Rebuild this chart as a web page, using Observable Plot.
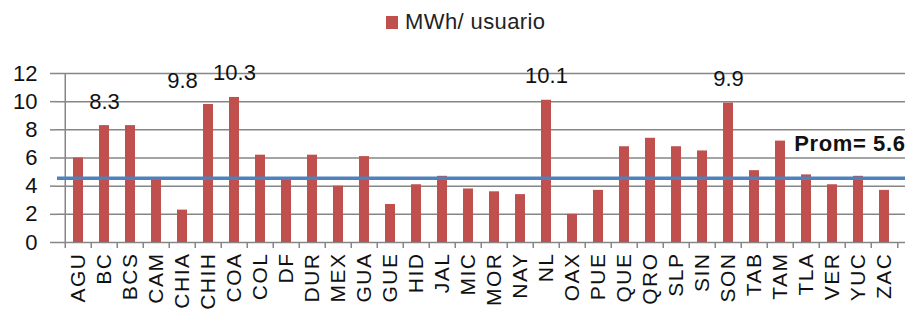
<!DOCTYPE html>
<html>
<head>
<meta charset="utf-8">
<script src="https://cdn.jsdelivr.net/npm/d3@7"></script>
<script src="https://cdn.jsdelivr.net/npm/@observablehq/plot@0.6"></script>
<style>
  html, body { margin: 0; padding: 0; background: #fff; }
  #wrap { position: relative; width: 909px; height: 312px; font-family: "Liberation Sans", Arial, sans-serif; }
  #legend { position: absolute; left: 386px; top: 9px; display: flex; align-items: center; font-size: 22px; color: #222; z-index: 2; letter-spacing: 0.4px; }
  #legend .sw { width: 12px; height: 13px; background: #C0504D; margin-right: 7px; }
  svg { position: absolute; left: 0; top: 0; }
  g[aria-label="x-axis tick label"] text { letter-spacing: 1.5px; }
  g.prom text { letter-spacing: 0.6px; }
</style>
</head>
<body>
<div id="wrap">
  <div id="legend"><span class="sw"></span><span id="legend-text"></span></div>
</div>
<script>
const categories = ["AGU","BC","BCS","CAM","CHIA","CHIH","COA","COL","DF","DUR","MEX","GUA","GUE","HID","JAL","MIC","MOR","NAY","NL","OAX","PUE","QUE","QRO","SLP","SIN","SON","TAB","TAM","TLA","VER","YUC","ZAC"];
const values = [6.0,8.3,8.3,4.5,2.3,9.8,10.3,6.2,4.5,6.2,4.0,6.1,2.7,4.1,4.7,3.8,3.6,3.4,10.1,2.0,3.7,6.8,7.4,6.8,6.5,9.9,5.1,7.2,4.8,4.1,4.7,3.7];
const seriesName = "MWh/ usuario";
const labeledCategories = ["BC","COA","NL","SON"];
const labeledShiftedCategories = ["CHIH"];
const averageLineValue = 4.57;
const averageLabel = "Prom= 5.6";
const yTicks = [0,2,4,6,8,10,12];

document.getElementById("legend-text").textContent = seriesName;

const data = categories.map((c, i) => ({cat: c, v: values[i]}));
const labeled = data.filter(d => labeledCategories.includes(d.cat));
const labeledShifted = data.filter(d => labeledShiftedCategories.includes(d.cat));

const W = 909, H = 312, ML = 57, MR = 4, MT = 73, MB = 70;
const bw = (W - ML - MR) / categories.length;

const chart = Plot.plot({
  width: W,
  height: H,
  marginLeft: ML,
  marginRight: MR,
  marginTop: MT,
  marginBottom: MB,
  style: {fontFamily: "'Liberation Sans', Arial, sans-serif", background: "transparent", overflow: "visible"},
  x: {type: "band", domain: categories, padding: 0.6},
  y: {domain: [0, 12]},
  marks: [
    Plot.gridY(yTicks, {stroke: "#868686", strokeOpacity: 1, strokeWidth: 1.5}),
    Plot.axisY(yTicks, {tickSize: 7, tickPadding: 13, fontSize: 22, stroke: "#868686", strokeWidth: 1.5, fill: "#111", label: null}),
    Plot.ruleX(categories, {x: d => d, dx: -bw / 2, y1: 0, y2: -0.43, stroke: "#868686", strokeWidth: 1.5, clip: false}),
    Plot.ruleX([categories[categories.length - 1]], {x: d => d, dx: bw / 2, y1: 0, y2: -0.43, stroke: "#868686", strokeWidth: 1.5}),
    Plot.ruleX(categories.slice(0,1), {x: d => d, dx: -bw / 2, y1: 0, y2: 12, stroke: "#868686", strokeWidth: 1.5}),
    Plot.barY(data, {x: "cat", y: "v", fill: "#C0504D"}),
    Plot.ruleY([averageLineValue], {stroke: "#4F81BD", strokeWidth: 3.5}),
    Plot.text(labeled, {x: "cat", y: "v", text: d => d.v.toFixed(1), dy: -24, fontSize: 22, fill: "#111"}),
    Plot.text(labeledShifted, {x: "cat", y: "v", text: d => d.v.toFixed(1), dy: -24, dx: -26, fontSize: 22, fill: "#111"}),
    Plot.text([averageLabel], {frameAnchor: "right", y: averageLineValue, text: d => d, dy: -34, dx: 0, textAnchor: "end", fontSize: 22, fontWeight: "bold", fill: "#111", className: "prom"}),
    Plot.axisX({tickSize: 0, tickPadding: 10, tickRotate: -90, fontSize: 21, fill: "#111", label: null})
  ]
});
document.getElementById("wrap").appendChild(chart);
</script>
</body>
</html>
